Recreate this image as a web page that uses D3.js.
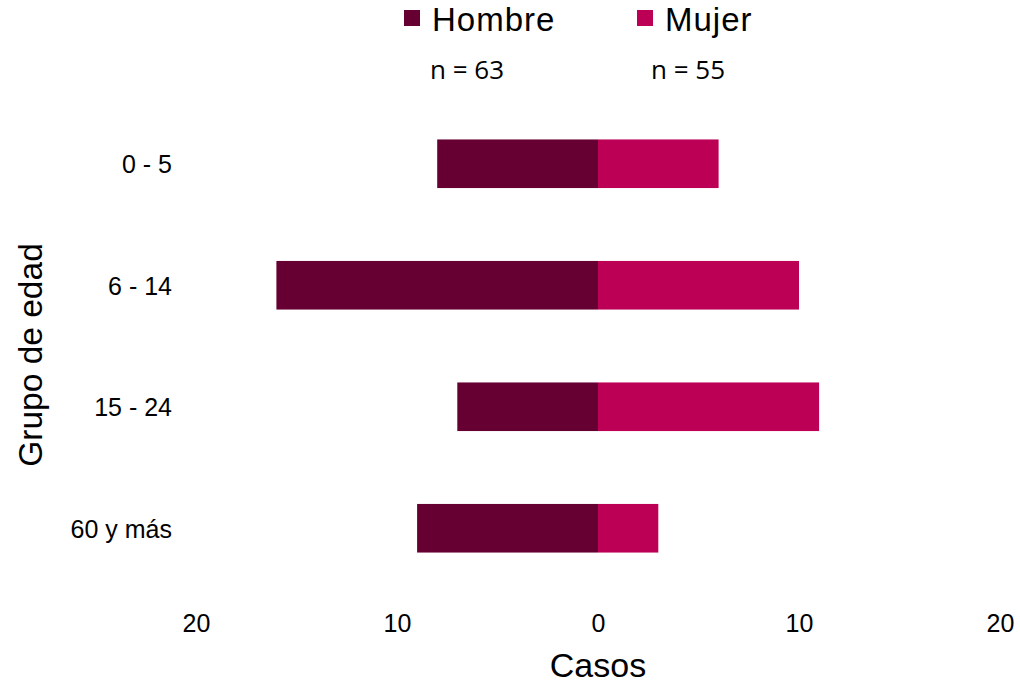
<!DOCTYPE html>
<html><head><meta charset="utf-8">
<script src="https://cdn.jsdelivr.net/npm/d3@7"></script>
<style>body{margin:0;background:#fff}svg{display:block}</style>
</head><body><svg id="c" width="1020" height="683"></svg>
<script>
const categories = ["0 - 5", "6 - 14", "15 - 24", "60 y más"];
const hombre = [8, 16, 7, 9];
const mujer = [6, 10, 11, 3];
const seriesNames = ["Hombre", "Mujer"];
const seriesN = ["n = 63", "n = 55"];
const tickValues = [-20, -10, 0, 10, 20];
const colors = ["#660033", "#BB0056"];

const FONT = "Liberation Sans, Arial, sans-serif";
const svg = d3.select("#c");
const x = d3.scaleLinear().domain([-20, 20]).range([196, 1000]);
const y = d3.scaleBand().domain(categories).range([103, 589]).paddingInner(0.6).paddingOuter(0.3);

const rows = categories.map((c, i) => ({c, h: hombre[i], m: mujer[i]}));
svg.append("g").selectAll("rect").data(rows).join("rect")
  .attr("x", d => x(-d.h)).attr("width", d => x(0) - x(-d.h))
  .attr("y", d => y(d.c)).attr("height", y.bandwidth()).attr("fill", colors[0]);
svg.append("g").selectAll("rect").data(rows).join("rect")
  .attr("x", x(0)).attr("width", d => x(d.m) - x(0))
  .attr("y", d => y(d.c)).attr("height", y.bandwidth()).attr("fill", colors[1]);

const xa = svg.append("g").attr("transform", "translate(0,611)")
  .call(d3.axisBottom(x).tickValues(tickValues).tickSize(0).tickFormat(d => Math.abs(d)));
xa.select(".domain").remove();
xa.selectAll("text").attr("font-family", FONT).attr("font-size", 25).attr("fill", "#000");

const ya = svg.append("g").attr("transform", "translate(180,0)")
  .call(d3.axisLeft(y).tickSize(0).tickPadding(8));
ya.select(".domain").remove();
ya.selectAll("text").attr("font-family", FONT).attr("font-size", 25).attr("dy", "0.38em").attr("fill", "#000");

svg.append("text").attr("x", x(0)).attr("y", 677).attr("text-anchor", "middle")
  .attr("font-family", FONT).attr("font-size", 34).text("Casos");
svg.append("text").attr("transform", "translate(42,355) rotate(-90)").attr("text-anchor", "middle")
  .attr("font-family", FONT).attr("font-size", 33.5).text("Grupo de edad");

const legX = [404, 637];
const nX = [430, 651];
seriesNames.forEach((s, i) => {
  svg.append("rect").attr("x", legX[i]).attr("y", 10).attr("width", 16).attr("height", 16).attr("fill", colors[i]);
  svg.append("text").attr("x", legX[i] + 28).attr("y", 31)
    .attr("font-family", FONT).attr("font-size", 33).attr("letter-spacing", 1).text(s);
  svg.append("text").attr("x", nX[i]).attr("y", 79)
    .attr("font-family", "Open Sans, sans-serif").attr("font-size", 26).text(seriesN[i]);
});
</script></body></html>
